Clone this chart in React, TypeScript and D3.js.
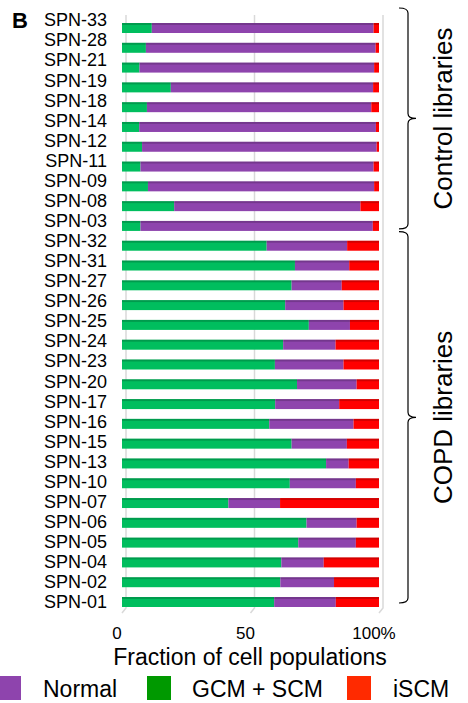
import React from "react";
import * as d3 from "d3";

const categories = [
  "SPN-33", "SPN-28", "SPN-21", "SPN-19", "SPN-18", "SPN-14", "SPN-12", "SPN-11", "SPN-09", "SPN-08", "SPN-03",
  "SPN-32", "SPN-31", "SPN-27", "SPN-26", "SPN-25", "SPN-24", "SPN-23", "SPN-20", "SPN-17", "SPN-16",
  "SPN-15", "SPN-13", "SPN-10", "SPN-07", "SPN-06", "SPN-05", "SPN-04", "SPN-02", "SPN-01",
];
const gcmScm = [
  11.6, 9.3, 6.8, 19.0, 9.7, 6.7, 7.8, 7.2, 10.1, 20.3, 7.2,
  56.3, 67.3, 66.0, 63.5, 72.7, 62.7, 59.5, 68.1, 59.6, 57.3,
  66.0, 79.4, 65.3, 41.4, 71.8, 68.6, 62.0, 61.6, 59.2,
];
const normal = [
  86.3, 89.4, 91.3, 78.7, 87.3, 92.1, 91.3, 90.7, 88.0, 72.5, 90.4,
  31.3, 21.1, 19.5, 22.7, 16.0, 20.4, 26.7, 23.2, 24.9, 32.8,
  21.5, 8.8, 25.7, 20.1, 19.5, 22.4, 16.5, 20.9, 24.0,
];
const iscm = [
  2.1, 1.3, 1.9, 2.3, 3.0, 1.2, 0.9, 2.1, 1.9, 7.2, 2.4,
  12.4, 11.6, 14.5, 13.8, 11.3, 16.9, 13.8, 8.7, 15.5, 9.9,
  12.5, 11.8, 9.0, 38.5, 8.7, 9.0, 21.5, 17.5, 16.8,
];
const xTicks = [0, 50, 100];
const xTickLabels = ["0", "50", "100%"];
const groups = [
  { name: "Control libraries", first: "SPN-33", last: "SPN-03" },
  { name: "COPD libraries", first: "SPN-32", last: "SPN-01" },
];
const legendItems = ["Normal", "GCM + SCM", "iSCM"];

const FONT = "Liberation Sans, Arial, sans-serif";
const barColors = { gcm: "#00BE5E", normal: "#8E44AD", iscm: "#FF0000" };
const legendColors = ["#8E44AD", "#009900", "#FF2A00"];

function bracePath(x0: number, xm: number, xt: number, y0: number, y1: number) {
  const ym = (y0 + y1) / 2;
  const r = 5;
  return [
    `M${x0},${y0}`,
    `Q${xm},${y0} ${xm},${y0 + r}`,
    `L${xm},${ym - r}`,
    `Q${xm},${ym} ${xt},${ym}`,
    `Q${xm},${ym} ${xm},${ym + r}`,
    `L${xm},${y1 - r}`,
    `Q${xm},${y1} ${x0},${y1}`,
  ].join(" ");
}

export default function App() {
  const width = 468;
  const height = 703;
  const x = d3.scaleLinear().domain([0, 100]).range([122, 379]);
  const yBar = d3.scalePoint<string>().domain(categories).range([28, 602]);
  const yLab = d3.scalePoint<string>().domain(categories).range([20, 602]);
  const barH = 10;
  const depth = 4;

  const rows = categories.map((c, i) => {
    const segs = [
      { key: "gcm", v0: 0, v1: gcmScm[i], color: barColors.gcm },
      { key: "normal", v0: gcmScm[i], v1: gcmScm[i] + normal[i], color: barColors.normal },
      { key: "iscm", v0: gcmScm[i] + normal[i], v1: gcmScm[i] + normal[i] + iscm[i], color: barColors.iscm },
    ];
    return { c, segs };
  });

  const legendX = [-3, 147, 347];
  const legendTextX = [43, 192, 393];

  return (
    <svg width={width} height={height} style={{ position: "absolute", left: 0, top: 0, background: "#fff" }}>
      {xTicks.map((t) => (
        <polyline
          key={"g" + t}
          points={`${x(t) + depth},15 ${x(t) + depth},608 ${x(t)},613`}
          fill="none"
          stroke="#D9D9D9"
          strokeWidth={1.5}
        />
      ))}
      {rows.map((r) => {
        const cy = yBar(r.c) as number;
        return (
          <g key={r.c}>
            {r.segs.map((s) => {
              const w = Math.max(0, Math.min(x(100), x(s.v1)) - x(s.v0));
              return (
                <g key={s.key}>
                  <rect x={x(s.v0)} y={cy - barH / 2} width={w} height={barH} fill={s.color} />
                  <rect x={x(s.v0)} y={cy - barH / 2} width={w} height={2} fill="rgba(0,0,0,0.18)" />
                </g>
              );
            })}
          </g>
        );
      })}
      {categories.map((c) => (
        <text key={"l" + c} x={107} y={yLab(c) as number} dy="0.35em" textAnchor="end" fontFamily={FONT} fontSize={18} fill="#000">
          {c}
        </text>
      ))}
      {xTicks.map((t, i) => (
        <text key={"t" + t} x={x(t) - 5} y={639} textAnchor="middle" fontFamily={FONT} fontSize={17} fill="#000">
          {xTickLabels[i]}
        </text>
      ))}
      <text x={250} y={665} textAnchor="middle" fontFamily={FONT} fontSize={23} fill="#000">
        Fraction of cell populations
      </text>
      <text x={12} y={28} fontFamily={FONT} fontSize={22} fontWeight="bold" fill="#000">
        B
      </text>
      {groups.map((g, i) => {
        const y0 = i === 0 ? 8 : (yBar(g.first) as number) - 14;
        const y1 = i === 0 ? (yBar(g.last) as number) + 3 : (yBar(g.last) as number) + 1;
        const ym = (y0 + y1) / 2;
        return (
          <g key={g.name}>
            <path d={bracePath(399, 408, 416, y0, y1)} fill="none" stroke="#000" strokeWidth={1.2} />
            <text
              transform={`translate(452,${ym}) rotate(-90)`}
              textAnchor="middle"
              fontFamily={FONT}
              fontSize={26}
              fill="#000"
            >
              {g.name}
            </text>
          </g>
        );
      })}
      {legendItems.map((l, i) => (
        <g key={l}>
          <rect x={legendX[i]} y={676} width={24} height={24} fill={legendColors[i]} />
          <text x={legendTextX[i]} y={697} fontFamily={FONT} fontSize={23} fill="#000">
            {l}
          </text>
        </g>
      ))}
    </svg>
  );
}
